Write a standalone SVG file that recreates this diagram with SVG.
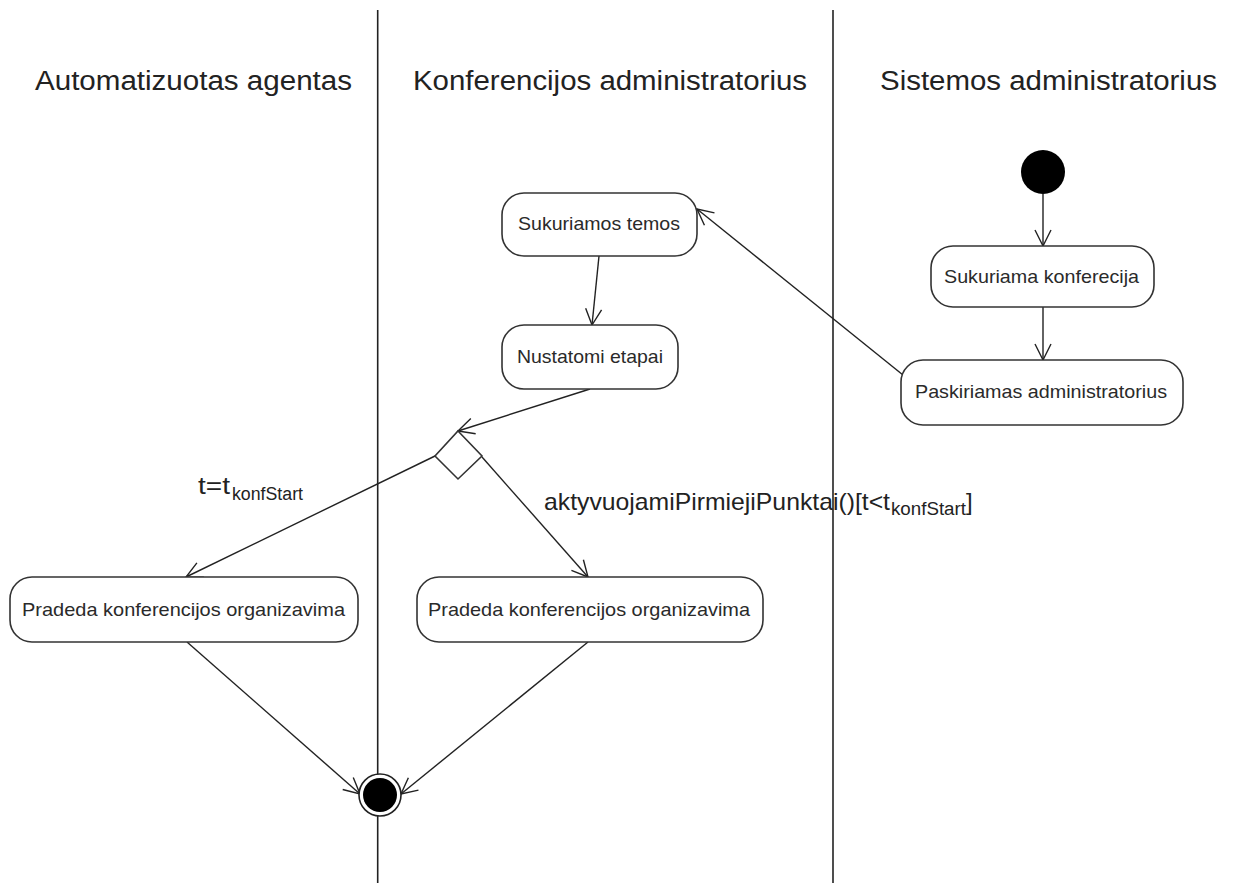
<svg xmlns="http://www.w3.org/2000/svg" width="1236" height="883" viewBox="0 0 1236 883">
  <style>
    .lane { stroke: #222; stroke-width: 1.6; }
    .hdr { font-family: "Liberation Sans", Arial, sans-serif; font-size: 27px; fill: #222; }
    .act { fill: #fff; stroke: #333; stroke-width: 1.6; }
    .txt { font-family: "Liberation Sans", Arial, sans-serif; font-size: 19px; fill: #2a2a2a; text-anchor: start; }
    .lbl { font-family: "Liberation Sans", Arial, sans-serif; font-size: 24px; fill: #222; }
    .sub { font-size: 18px; }
    .edge { fill: none; stroke: #222; stroke-width: 1.4; marker-end: url(#open); }
  </style>
  <defs>
    <marker id="open" viewBox="-18 -9 20 18" markerWidth="20" markerHeight="18" refX="0" refY="0" orient="auto" markerUnits="userSpaceOnUse">
      <path d="M -16 -8 L 0 0 L -16 8" fill="none" stroke="#222" stroke-width="1.4"/>
    </marker>
  </defs>
  <rect width="1236" height="883" fill="#fff"/>

  <!-- swimlane separators and titles -->
  <g id="lanes">
    <line class="lane" x1="377.7" y1="10" x2="377.7" y2="883"/>
    <line class="lane" x1="833" y1="10" x2="833" y2="883"/>
    <text class="hdr" x="35" y="90" textLength="317" lengthAdjust="spacingAndGlyphs">Automatizuotas agentas</text>
    <text class="hdr" x="413" y="90" textLength="394" lengthAdjust="spacingAndGlyphs">Konferencijos administratorius</text>
    <text class="hdr" x="880" y="90" textLength="337" lengthAdjust="spacingAndGlyphs">Sistemos administratorius</text>
  </g>

  <!-- connectors -->
  <g id="connectors">
    <line class="edge" x1="1043" y1="194" x2="1043" y2="246"/>
    <line class="edge" x1="1043" y1="307" x2="1043" y2="360"/>
    <line class="edge" x1="903" y1="375" x2="697" y2="209"/>
    <line class="edge" x1="599" y1="256" x2="592" y2="325"/>
    <line class="edge" x1="590" y1="389" x2="458" y2="431"/>
    <line class="edge" x1="435" y1="456" x2="186" y2="577"/>
    <line class="edge" x1="482" y1="457" x2="588" y2="577"/>
    <line class="edge" x1="187" y1="642" x2="360" y2="794"/>
    <line class="edge" x1="588" y1="642" x2="401" y2="794"/>
    <text class="lbl" x="198" y="494" textLength="32" lengthAdjust="spacingAndGlyphs">t=t</text>
    <text class="lbl sub" x="232" y="500" textLength="71" lengthAdjust="spacingAndGlyphs">konfStart</text>
    <text class="lbl" x="544" y="510" textLength="346" lengthAdjust="spacingAndGlyphs">aktyvuojamiPirmiejiPunktai()[t&lt;t</text>
    <text class="lbl sub" x="891" y="515" textLength="75" lengthAdjust="spacingAndGlyphs">konfStart</text>
    <text class="lbl" x="966" y="510">]</text>
  </g>

  <!-- start node -->
  <g id="start">
    <circle cx="1043" cy="172" r="22" fill="#000"/>
  </g>

  <g id="sukuriama-konferecija">
    <rect class="act" x="931" y="246" width="223" height="61" rx="22"/>
    <text class="txt" x="944" y="283" textLength="195" lengthAdjust="spacingAndGlyphs">Sukuriama konferecija</text>
  </g>

  <g id="paskiriamas-administratorius">
    <rect class="act" x="901" y="360" width="282" height="65" rx="22"/>
    <text class="txt" x="915" y="398" textLength="252" lengthAdjust="spacingAndGlyphs">Paskiriamas administratorius</text>
  </g>

  <g id="sukuriamos-temos">
    <rect class="act" x="502" y="193" width="195" height="63" rx="22"/>
    <text class="txt" x="518" y="230" textLength="162" lengthAdjust="spacingAndGlyphs">Sukuriamos temos</text>
  </g>

  <g id="nustatomi-etapai">
    <rect class="act" x="502" y="325" width="176" height="64" rx="22"/>
    <text class="txt" x="517" y="363" textLength="146" lengthAdjust="spacingAndGlyphs">Nustatomi etapai</text>
  </g>

  <g id="decision">
    <polygon class="act" points="458,431 482,456 458,479 435,456"/>
  </g>

  <g id="pradeda-agentas">
    <rect class="act" x="10" y="577" width="348" height="65" rx="22"/>
    <text class="txt" x="22" y="616" textLength="323" lengthAdjust="spacingAndGlyphs">Pradeda konferencijos organizavima</text>
  </g>

  <g id="pradeda-administratorius">
    <rect class="act" x="417" y="577" width="346" height="65" rx="22"/>
    <text class="txt" x="428" y="616" textLength="322" lengthAdjust="spacingAndGlyphs">Pradeda konferencijos organizavima</text>
  </g>

  <!-- final node -->
  <g id="final">
    <circle cx="380" cy="795" r="21" fill="#fff" stroke="#222" stroke-width="1.6"/>
    <circle cx="380" cy="795" r="17" fill="#000"/>
  </g>
</svg>
